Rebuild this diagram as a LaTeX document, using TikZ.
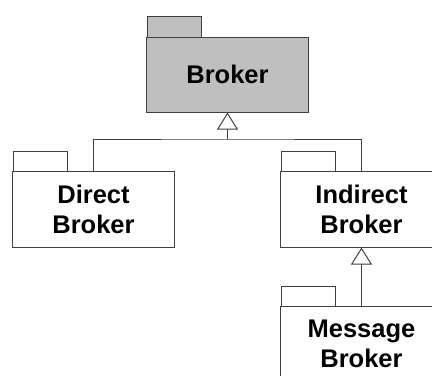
\documentclass[tikz,border=0pt]{standalone}
\usepackage{fontspec}
\setmainfont{Liberation Sans}
\usetikzlibrary{arrows.meta}
\tikzset{
  pkgline/.style={draw=black!75, line width=1bp},
  pkgbody/.style={pkgline, fill=white, minimum width=161bp, minimum height=76bp,
    inner sep=0pt, align=center, font=\fontsize{25.5bp}{30bp}\selectfont\bfseries},
  pkgtab/.style={pkgline, fill=white},
  gen/.style={pkgline, -{Triangle[open, length=17bp, width=21bp, fill=white]}},
  conn/.style={pkgline},
}
\begin{document}
\begin{tikzpicture}[x=1bp, y=-1bp]
  \useasboundingbox (0,0) rectangle (432,376);
  \clip (0,0) rectangle (432,376);

  % top-level package
  \draw[pkgtab, fill=black!25] (147,16) rectangle (201,37);
  \node[pkgbody, fill=black!25, minimum height=75bp] (broker) at (227.5,74.5) {Broker};

  % direct broker
  \draw[pkgtab] (13,151) rectangle (67,171);
  \node[pkgbody] (direct) at (93.5,209) {Direct\\Broker};

  % indirect broker
  \draw[pkgtab] (281,151) rectangle (335,171);
  \node[pkgbody] (indirect) at (361.5,209) {Indirect\\Broker};

  % message broker
  \draw[pkgtab] (281,286) rectangle (335,306);
  \node[pkgbody] (message) at (361.5,344) {Message\\Broker};

  % generalisation links
  \coordinate (join) at (227.5,139);
  \draw[conn] (direct.north) |- (join) -| (indirect.north);
  \draw[gen] (join) -- (broker.south);
  \draw[gen] (message.north) -- (indirect.south);
\end{tikzpicture}
\end{document}
